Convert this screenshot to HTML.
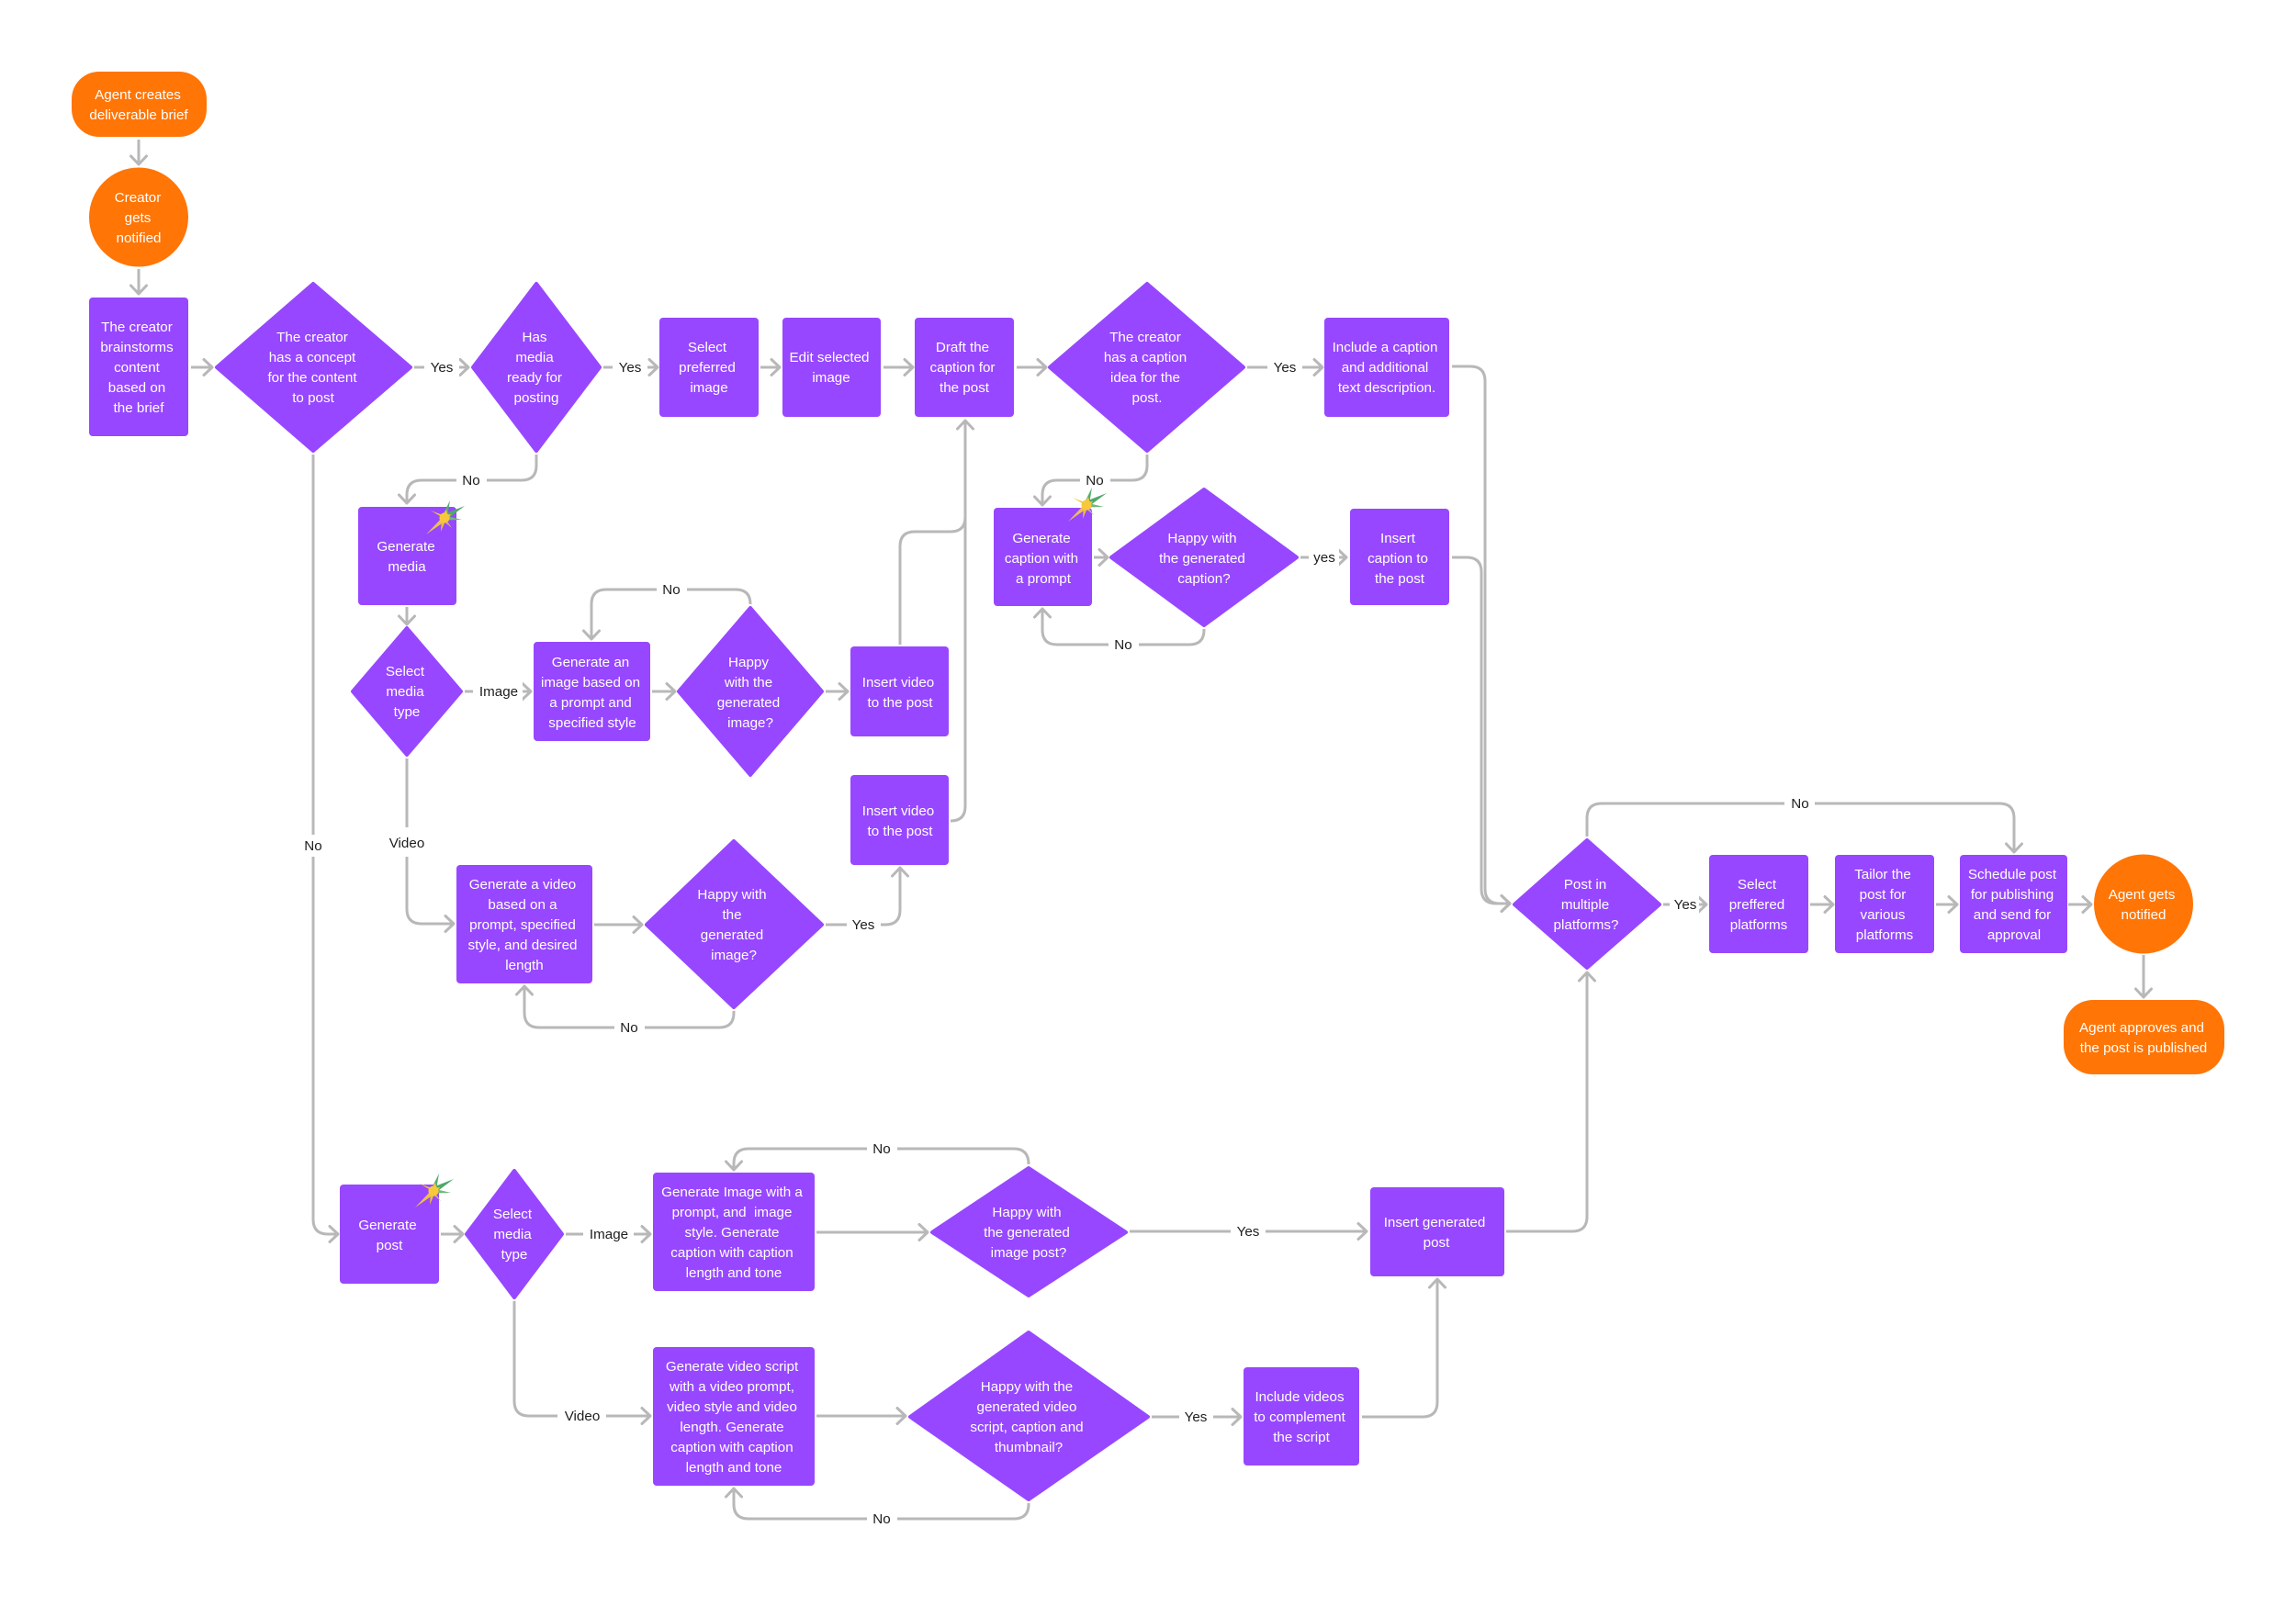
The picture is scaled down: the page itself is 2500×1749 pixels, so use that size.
<!DOCTYPE html>
<html><head><meta charset="utf-8"><style>
html,body{margin:0;padding:0;background:#fff;width:2500px;height:1749px;overflow:hidden}
svg{display:block}
.n{fill:#9747FF}
.d{fill:#9747FF;stroke:#9747FF;stroke-width:4;stroke-linejoin:round}
.o{fill:#FF7506}
.c{fill:none;stroke:#B8B8B8;stroke-width:3}
.a{marker-end:url(#ah)}
.w{fill:#fff}
text{font-family:"Liberation Sans",sans-serif;font-size:15.2px;text-anchor:middle}
.t text,text.t{fill:#fff}
.l text{fill:#1e1e1e}
</style></head><body>
<svg xmlns="http://www.w3.org/2000/svg" width="2500" height="1749" viewBox="0 0 2500 1749">
<defs>
<marker id="ah" markerUnits="userSpaceOnUse" markerWidth="24" markerHeight="24" viewBox="-12 -12 24 24" refX="0" refY="0" orient="auto"><path d="M-9,-8.500 L0,0 L-9,8.500" fill="none" stroke="#B8B8B8" stroke-width="3" stroke-linecap="round" stroke-linejoin="round"/></marker>
<g id="star">
<polygon points="-2,-3 6,-19 3,-1" fill="#55AD6C"/>
<polygon points="-1,-4 22,-13 2,2" fill="#4FA86B"/>
<polygon points="0,-2.500 19,2 0,2.500" fill="#6DBA78"/>
<polygon points="1,1 8,11 -2,3" fill="#C8A9A0"/>
<polygon points="-2,-3 -15,-8 2,2" fill="#F4C63C"/>
<polygon points="-1,-2 -20,18 3,2" fill="#EDBE55"/>
<polygon points="-3,0 -4,15 2,1" fill="#F0BC3C"/>
<polygon points="-2,-3 2,-9 4,-1" fill="#F4C63C"/>
<polygon points="0,-3 7,-4 3,2" fill="#F4C63C"/>
<circle r="5.500" fill="#F7C83A"/>
</g>
</defs>

<!-- connectors -->
<g class="c">
<path class="a" d="M151 152V179"/>
<path class="a" d="M151 293V320"/>
<path class="a" d="M208 400H231"/>
<path class="a" d="M451 400H510"/>
<path class="a" d="M657 400H716"/>
<path class="a" d="M828 400H849"/>
<path class="a" d="M962 400H994"/>
<path class="a" d="M1107 400H1139"/>
<path class="a" d="M1358 400H1440"/>
<path class="a" d="M1581 399H1601Q1617 399 1617 415V968Q1617 984 1633 984H1644"/>
<path class="a" d="M1581 607H1597Q1613 607 1613 623V968Q1613 984 1629 984H1644"/>
<path class="a" d="M1249 495V507Q1249 523 1233 523H1151Q1135 523 1135 539V550"/>
<path class="a" d="M1191 607H1206"/>
<path class="a" d="M1416 607H1466"/>
<path class="a" d="M1311 685V686Q1311 702 1295 702H1151Q1135 702 1135 686V663"/>
<path class="a" d="M341 495V1328Q341 1344 357 1344H368"/>
<path class="a" d="M584 495V507Q584 523 568 523H459Q443 523 443 539V548"/>
<path class="a" d="M443 661V680"/>
<path class="a" d="M506 753H578"/>
<path class="a" d="M710 753H735"/>
<path class="a" d="M899 753H923"/>
<path class="a" d="M817 658Q817 642 801 642H660Q644 642 644 658V696"/>
<path class="a" d="M443 826V990Q443 1006 459 1006H494"/>
<path class="a" d="M647 1007H699"/>
<path class="a" d="M899 1007H964Q980 1007 980 991V945"/>
<path class="a" d="M799 1101V1103Q799 1119 783 1119H587Q571 1119 571 1103V1074"/>
<path d="M980 702V595Q980 579 996 579H1035Q1051 579 1051 563"/>
<path class="a" d="M1035 894Q1051 894 1051 878V458"/>
<path class="a" d="M1811 985H1858"/>
<path class="a" d="M1971 985H1996"/>
<path class="a" d="M2108 985H2131"/>
<path class="a" d="M2252 985H2277"/>
<path class="a" d="M2334 1040V1086"/>
<path class="a" d="M1728 911V891Q1728 875 1744 875H2177Q2193 875 2193 891V928"/>
<path class="a" d="M480 1344H504"/>
<path class="a" d="M616 1344H708"/>
<path class="a" d="M889 1342H1010"/>
<path class="a" d="M1120 1268Q1120 1251 1104 1251H815Q799 1251 799 1267V1274"/>
<path class="a" d="M560 1417V1526Q560 1542 576 1542H708"/>
<path class="a" d="M889 1542H986"/>
<path class="a" d="M1120 1637V1638Q1120 1654 1104 1654H815Q799 1654 799 1638V1621"/>
<path class="a" d="M1230 1341H1488"/>
<path class="a" d="M1640 1341H1712Q1728 1341 1728 1325V1059"/>
<path class="a" d="M1254 1543H1351"/>
<path class="a" d="M1483 1543H1549Q1565 1543 1565 1527V1393"/>
</g>

<!-- label backgrounds -->
<g class="w">
<rect x="462" y="388" width="38" height="24"/>
<rect x="667" y="388" width="38" height="24"/>
<rect x="1380" y="388" width="38" height="24"/>
<rect x="497" y="511" width="33" height="24"/>
<rect x="1176" y="511" width="33" height="24"/>
<rect x="1207" y="690" width="33" height="24"/>
<rect x="1425" y="595" width="33" height="24"/>
<rect x="325" y="909" width="33" height="24"/>
<rect x="515" y="741" width="54" height="24"/>
<rect x="715" y="630" width="33" height="24"/>
<rect x="425" y="901" width="36" height="32"/>
<rect x="922" y="995" width="37" height="24"/>
<rect x="669" y="1107" width="33" height="24"/>
<rect x="1943" y="863" width="33" height="24"/>
<rect x="1818" y="973" width="32" height="24"/>
<rect x="635" y="1332" width="55" height="24"/>
<rect x="944" y="1239" width="33" height="24"/>
<rect x="607" y="1530" width="53" height="24"/>
<rect x="944" y="1642" width="33" height="24"/>
<rect x="1340" y="1329" width="38" height="24"/>
<rect x="1284" y="1531" width="37" height="24"/>
</g>

<!-- orange nodes -->
<rect class="o" x="78" y="78" width="147" height="71" rx="30"/>
<circle class="o" cx="151" cy="236.500" r="54"/>
<circle class="o" cx="2334" cy="984.500" r="54"/>
<rect class="o" x="2247" y="1089" width="175" height="81" rx="32"/>

<!-- rects -->
<g class="n">
<rect x="97" y="324" width="108" height="151" rx="4"/>
<rect x="718" y="346" width="108" height="108" rx="4"/>
<rect x="852" y="346" width="107" height="108" rx="4"/>
<rect x="996" y="346" width="108" height="108" rx="4"/>
<rect x="1442" y="346" width="136" height="108" rx="4"/>
<rect x="390" y="552" width="107" height="107" rx="4"/>
<rect x="1082" y="553" width="107" height="107" rx="4"/>
<rect x="1470" y="554" width="108" height="105" rx="4"/>
<rect x="581" y="699" width="127" height="108" rx="4"/>
<rect x="926" y="704" width="107" height="98" rx="4"/>
<rect x="926" y="844" width="107" height="98" rx="4"/>
<rect x="497" y="942" width="148" height="129" rx="4"/>
<rect x="1861" y="931" width="108" height="107" rx="4"/>
<rect x="1998" y="931" width="108" height="107" rx="4"/>
<rect x="2134" y="931" width="117" height="107" rx="4"/>
<rect x="370" y="1290" width="108" height="108" rx="4"/>
<rect x="711" y="1277" width="176" height="129" rx="4"/>
<rect x="711" y="1467" width="176" height="151" rx="4"/>
<rect x="1492" y="1293" width="146" height="97" rx="4"/>
<rect x="1354" y="1489" width="126" height="107" rx="4"/>
</g>

<!-- diamonds -->
<g class="d">
<polygon points="341,309 447,400 341,491 236,400"/>
<polygon points="584,309 653,400 584,491 515,400"/>
<polygon points="1249,309 1354,400 1249,491 1143,400"/>
<polygon points="1311,533 1412,607 1311,681 1210,607"/>
<polygon points="443,684 502,753 443,822 384,753"/>
<polygon points="817,662 895,753 817,844 739,753"/>
<polygon points="799,916 895,1007 799,1097 704,1007"/>
<polygon points="1728,915 1807,985 1728,1054 1649,985"/>
<polygon points="560,1275 612,1344 560,1413 508,1344"/>
<polygon points="1120,1272 1226,1342 1120,1411 1015,1342"/>
<polygon points="1120,1451 1250,1543 1120,1633 991,1543"/>
</g>

<use href="#star" x="484" y="564"/>
<use href="#star" x="1183" y="550"/>
<use href="#star" x="472" y="1297"/>

<!-- node text -->
<g class="t">
<text x="150" y="108">Agent creates</text><text x="151" y="130">deliverable brief</text>
<text x="150" y="220">Creator</text><text x="150" y="242">gets</text><text x="151" y="264">notified</text>
<text x="149" y="361">The creator</text><text x="149" y="383">brainstorms</text><text x="149" y="405">content</text><text x="149" y="427">based on</text><text x="151" y="449">the brief</text>
<text x="340" y="372">The creator</text><text x="340" y="394">has a concept</text><text x="340" y="416">for the content</text><text x="341" y="438">to post</text>
<text x="582" y="372">Has</text><text x="582" y="394">media</text><text x="582" y="416">ready for</text><text x="584" y="438">posting</text>
<text x="770" y="383">Select</text><text x="770" y="405">preferred</text><text x="772" y="427">image</text>
<text x="903" y="394">Edit selected</text><text x="905" y="416">image</text>
<text x="1048" y="383">Draft the</text><text x="1048" y="405">caption for</text><text x="1050" y="427">the post</text>
<text x="1247" y="372">The creator</text><text x="1247" y="394">has a caption</text><text x="1247" y="416">idea for the</text><text x="1249" y="438">post.</text>
<text x="1508" y="383">Include a caption</text><text x="1508" y="405">and additional</text><text x="1510" y="427">text description.</text>
<text x="442" y="600">Generate</text><text x="443" y="622">media</text>
<text x="1134" y="591">Generate</text><text x="1134" y="613">caption with</text><text x="1136" y="635">a prompt</text>
<text x="1309" y="591">Happy with</text><text x="1309" y="613">the generated</text><text x="1311" y="635">caption?</text>
<text x="1522" y="591">Insert</text><text x="1522" y="613">caption to</text><text x="1524" y="635">the post</text>
<text x="441" y="736">Select</text><text x="441" y="758">media</text><text x="443" y="780">type</text>
<text x="643" y="726">Generate an</text><text x="643" y="748">image based on</text><text x="643" y="770">a prompt and</text><text x="645" y="792">specified style</text>
<text x="815" y="726">Happy</text><text x="815" y="748">with the</text><text x="815" y="770">generated</text><text x="817" y="792">image?</text>
<text x="978" y="748">Insert video</text><text x="980" y="770">to the post</text>
<text x="978" y="888">Insert video</text><text x="980" y="910">to the post</text>
<text x="569" y="968">Generate a video</text><text x="569" y="990">based on a</text><text x="569" y="1012">prompt, specified</text><text x="569" y="1034">style, and desired</text><text x="571" y="1056">length</text>
<text x="797" y="979">Happy with</text><text x="797" y="1001">the</text><text x="797" y="1023">generated</text><text x="799" y="1045">image?</text>
<text x="1726" y="968">Post in</text><text x="1726" y="990">multiple</text><text x="1727" y="1012">platforms?</text>
<text x="1913" y="968">Select</text><text x="1913" y="990">preffered</text><text x="1915" y="1012">platforms</text>
<text x="2050" y="957">Tailor the</text><text x="2050" y="979">post for</text><text x="2050" y="1001">various</text><text x="2052" y="1023">platforms</text>
<text x="2191" y="957">Schedule post</text><text x="2191" y="979">for publishing</text><text x="2191" y="1001">and send for</text><text x="2193" y="1023">approval</text>
<text x="2332" y="979">Agent gets</text><text x="2334" y="1001">notified</text>
<text x="2332" y="1124">Agent approves and</text><text x="2334" y="1146">the post is published</text>
<text x="422" y="1339">Generate</text><text x="424" y="1361">post</text>
<text x="558" y="1327">Select</text><text x="558" y="1349">media</text><text x="560" y="1371">type</text>
<text x="797" y="1303">Generate Image with a</text><text x="797" y="1325">prompt, and&#160; image</text><text x="797" y="1347">style. Generate</text><text x="797" y="1369">caption with caption</text><text x="799" y="1391">length and tone</text>
<text x="1118" y="1325">Happy with</text><text x="1118" y="1347">the generated</text><text x="1120" y="1369">image post?</text>
<text x="797" y="1493">Generate video script</text><text x="797" y="1515">with a video prompt,</text><text x="797" y="1537">video style and video</text><text x="797" y="1559">length. Generate</text><text x="797" y="1581">caption with caption</text><text x="799" y="1603">length and tone</text>
<text x="1118" y="1515">Happy with the</text><text x="1118" y="1537">generated video</text><text x="1118" y="1559">script, caption and</text><text x="1120" y="1581">thumbnail?</text>
<text x="1562" y="1336">Insert generated</text><text x="1564" y="1358">post</text>
<text x="1415" y="1526">Include videos</text><text x="1415" y="1548">to complement</text><text x="1417" y="1570">the script</text>
</g>

<!-- connector labels -->
<g class="l">
<text x="481" y="405">Yes</text>
<text x="686" y="405">Yes</text>
<text x="1399" y="405">Yes</text>
<text x="513" y="528">No</text>
<text x="1192" y="528">No</text>
<text x="1223" y="707">No</text>
<text x="1442" y="612">yes</text>
<text x="341" y="926">No</text>
<text x="543" y="758">Image</text>
<text x="731" y="647">No</text>
<text x="443" y="923">Video</text>
<text x="940" y="1012">Yes</text>
<text x="685" y="1124">No</text>
<text x="1960" y="880">No</text>
<text x="1835" y="990">Yes</text>
<text x="663" y="1349">Image</text>
<text x="960" y="1256">No</text>
<text x="634" y="1547">Video</text>
<text x="960" y="1659">No</text>
<text x="1359" y="1346">Yes</text>
<text x="1302" y="1548">Yes</text>
</g>
</svg>
</body></html>
